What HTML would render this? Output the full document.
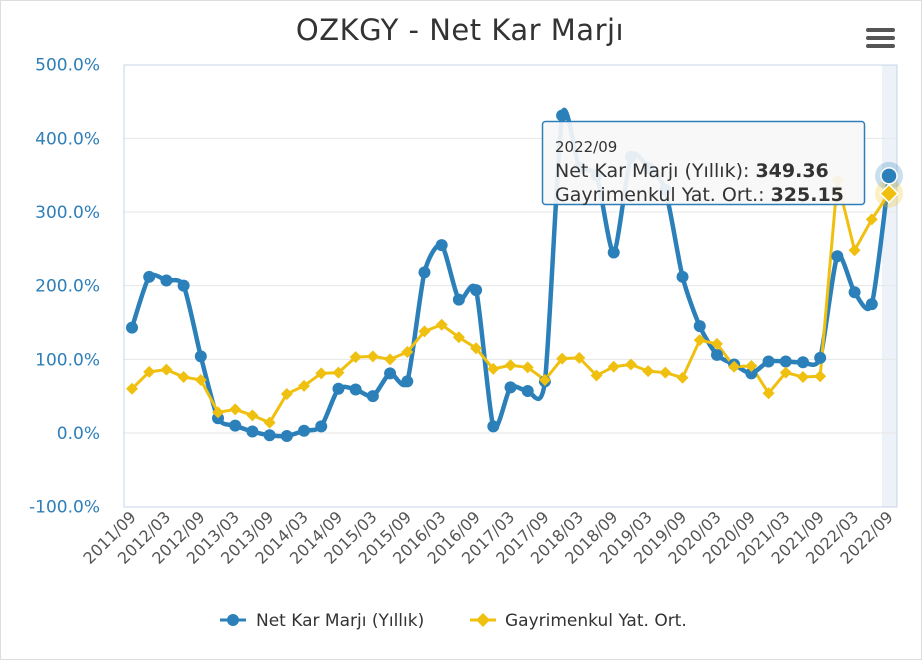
<!DOCTYPE html>
<html><head><meta charset="utf-8"><style>
html,body{margin:0;padding:0;background:#fff;}
svg{display:block;font-family:"DejaVu Sans","Liberation Sans",sans-serif;}
</style></head><body>
<svg id="s" width="923" height="660" xmlns="http://www.w3.org/2000/svg">
<rect x="0.5" y="0.5" width="921" height="659" fill="#fff" stroke="#ddd"/>
<text x="460" y="40" text-anchor="middle" font-size="29" fill="#333" letter-spacing="0.5">OZKGY - Net Kar Marjı</text>
<g fill="#555"><rect x="866" y="28" width="29" height="4" rx="2"/><rect x="866" y="36" width="29" height="4" rx="2"/><rect x="866" y="44" width="29" height="4" rx="2"/></g>
<rect x="882" y="65" width="15" height="442" fill="#e8eef6" opacity="0.8"/>
<g id="grid"></g>
<rect x="124" y="65" width="773" height="442" fill="none" stroke="#c8d4ea" stroke-width="1"/>
<g id="series"></g>
<g>
<rect x="542.5" y="121.5" width="322" height="83" rx="3" fill="#f7f7f7" fill-opacity="0.92" stroke="#2e7fb8" stroke-width="1.5"/>
<text x="555" y="152" font-size="15" fill="#333">2022/09</text>
<text x="555" y="177" font-size="19" fill="#333">Net Kar Marjı (Yıllık): <tspan font-weight="bold">349.36</tspan></text>
<text x="555" y="201" font-size="19" fill="#333">Gayrimenkul Yat. Ort.: <tspan font-weight="bold">325.15</tspan></text>
</g>
<g font-size="17" fill="#333">
<line x1="220" y1="620" x2="246" y2="620" stroke="#2c80b9" stroke-width="3"/><circle cx="233" cy="620" r="6" fill="#2c80b9"/>
<text x="256" y="626">Net Kar Marjı (Yıllık)</text>
<line x1="470" y1="620" x2="496" y2="620" stroke="#f0c010" stroke-width="3"/><path d="M483 613 L490 620 L483 627 L476 620Z" fill="#f0c010"/>
<text x="505" y="626">Gayrimenkul Yat. Ort.</text>
</g>
</svg>
<script>
const NS="http://www.w3.org/2000/svg";
function el(t,a,p){const e=document.createElementNS(NS,t);for(const k in a)e.setAttribute(k,a[k]);p.appendChild(e);return e;}
const grid=document.getElementById('grid'),ser=document.getElementById('series');
const Y=v=>433-v*0.7367, X=i=>132+i*(889-132)/44;
for(let v=-100;v<=500;v+=100){const y=Y(v);if(v>-100&&v<500)el('line',{x1:124,x2:897,y1:y,y2:y,stroke:'#e6e6e6'},grid);
 const t=el('text',{x:100,y:y+6,'text-anchor':'end','font-size':17,fill:'#2e7fb8'},grid);t.textContent=v.toFixed(1)+'%';}
const labs=[];for(let yr=2011,m=9,i=0;i<45;i++){if(i%2==0)labs.push([i,yr+'/'+(m<10?'0'+m:m)]);m+=3;if(m>12){m-=12;yr++;}}
labs.forEach(([i,s])=>{const x=X(i)+5,y=518;const t=el('text',{x:x,y:y,'text-anchor':'end','font-size':16,fill:'#555',transform:`rotate(-45 ${x} ${y})`},grid);t.textContent=s;});
const b=[143,212,207,200,104,20,10,2,-3,-4,3,9,60,59,50,81,70,218,255,181,194,9,62,57,70,431,360,350,245,375,360,330,212,145,106,93,81,97,97,96,102,240,191,175,349];
const yv=[60,83,86,76,72,28,32,24,14,53,64,81,82,103,104,100,110,138,147,130,115,87,92,89,72,101,102,78,90,93,84,82,75,126,121,90,91,54,82,76,77,343,248,290,325];
const bp=b.map((v,i)=>[X(i),Y(v)]);
let d=`M${bp[0][0]} ${bp[0][1]}`;
for(let i=0;i<bp.length-1;i++){const p0=bp[Math.max(i-1,0)],p1=bp[i],p2=bp[i+1],p3=bp[Math.min(i+2,bp.length-1)];
 const t=0.12;d+=` C${p1[0]+(p2[0]-p0[0])*t} ${p1[1]+(p2[1]-p0[1])*t} ${p2[0]-(p3[0]-p1[0])*t} ${p2[1]-(p3[1]-p1[1])*t} ${p2[0]} ${p2[1]}`;}
el('path',{d:d,fill:'none',stroke:'#2c80b9','stroke-width':4.5},ser);
el('polyline',{points:yv.map((v,i)=>X(i)+','+Y(v)).join(' '),fill:'none',stroke:'#f0c010','stroke-width':3},ser);
bp.forEach((p,i)=>{if(i<44)el('circle',{cx:p[0],cy:p[1],r:6,fill:'#2c80b9'},ser);});
yv.forEach((v,i)=>{if(i<44){const x=X(i),y=Y(v);el('path',{d:`M${x} ${y-6}L${x+6} ${y}L${x} ${y+6}L${x-6} ${y}Z`,fill:'#f0c010'},ser);}});
const lx=X(44),by=Y(349),yy=Y(325);
el('circle',{cx:lx,cy:by,r:14,fill:'#2c80b9',opacity:0.25},ser);
el('circle',{cx:lx,cy:yy,r:14,fill:'#f0c010',opacity:0.25},ser);
el('circle',{cx:lx,cy:by,r:8,fill:'#2c80b9',stroke:'#fff','stroke-width':1.5},ser);
el('path',{d:`M${lx} ${yy-9}L${lx+9} ${yy}L${lx} ${yy+9}L${lx-9} ${yy}Z`,fill:'#f0c010',stroke:'#fff','stroke-width':1.5},ser);
</script>
</body></html>
